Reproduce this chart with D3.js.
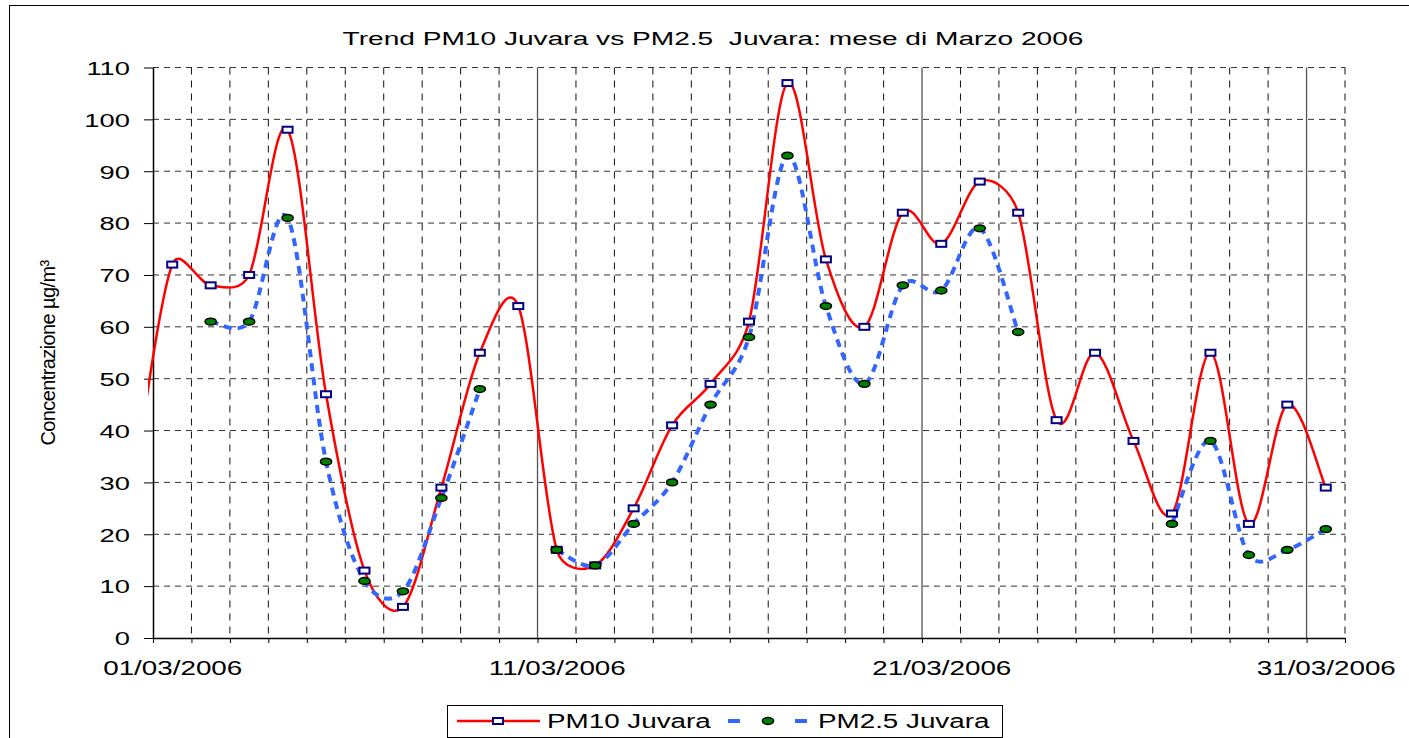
<!DOCTYPE html>
<html>
<head>
<meta charset="utf-8">
<script src="https://cdn.jsdelivr.net/npm/d3@7"></script>
<style>
  body { margin: 0; background: #fff; }
  svg { display: block; }
  text { font-family: "Liberation Sans", Arial, sans-serif; fill: #000; }
</style>
</head>
<body>
<script>
// daily values (28/02 only feeds the start of the smoothed line)
const dates = ["28/02/2006",
  "01/03/2006", "02/03/2006", "03/03/2006", "04/03/2006", "05/03/2006", "06/03/2006", "07/03/2006", "08/03/2006",
  "09/03/2006", "10/03/2006", "11/03/2006", "12/03/2006", "13/03/2006", "14/03/2006", "15/03/2006", "16/03/2006",
  "17/03/2006", "18/03/2006", "19/03/2006", "20/03/2006", "21/03/2006", "22/03/2006", "23/03/2006", "24/03/2006",
  "25/03/2006", "26/03/2006", "27/03/2006", "28/03/2006", "29/03/2006", "30/03/2006", "31/03/2006"];
const pm10 = [30,
  72, 68, 70, 98, 47, 13, 6, 29, 55, 64,
  17, 14, 25, 41, 49, 61, 107, 73, 60, 82,
  76, 88, 82, 42, 55, 38, 24, 55, 22, 45, 29];
const pm25 = [null,
  null, 61, 61, 81, 34, 11, 9, 27, 48, null,
  17, 14, 22, 30, 45, 58, 93, 64, 49, 68,
  67, 79, 59, null, null, null, 22, 38, 16, 17, 21];

const axisRange = ["01/03/2006", "01/04/2006"];
const labelDates = ["01/03/2006", "11/03/2006", "21/03/2006", "31/03/2006"];
const yTicks = [0, 10, 20, 30, 40, 50, 60, 70, 80, 90, 100, 110];

const seriesNames = ["PM10 Juvara", "PM2.5 Juvara"];
const title = "Trend PM10 Juvara vs PM2.5  Juvara: mese di Marzo 2006";
const yTitle = "Concentrazione µg/m³";

const W = 1409, H = 738;
const plot = { left: 153, right: 1345, top: 67.5, bottom: 638 };

// spreadsheet-style smoothing: bezier, handles 1/6 of the neighbour span,
// capped at half of the segment so short segments do not overshoot
function SmoothCurve(context) { this._context = context; }
SmoothCurve.prototype = {
  areaStart() { this._line = 0; },
  areaEnd() { this._line = NaN; },
  lineStart() { this._pts = []; },
  point(px, py) { this._pts.push([+px, +py]); },
  lineEnd() {
    const p = this._pts, c = this._context, n = p.length;
    if (!n) return;
    c.moveTo(p[0][0], p[0][1]);
    if (n === 2) { c.lineTo(p[1][0], p[1][1]); return; }
    const dist = (a, b) => Math.hypot(b[0] - a[0], b[1] - a[1]);
    for (let i = 0; i < n - 1; i++) {
      const p0 = p[i - 1] || p[i], p1 = p[i], p2 = p[i + 1], p3 = p[i + 2] || p[i + 1];
      const d12 = dist(p1, p2), d02 = dist(p0, p2), d13 = dist(p1, p3);
      const f1 = d02 > 0 ? Math.min(1 / 6, d12 / (2 * d02)) : 0;
      const f2 = d13 > 0 ? Math.min(1 / 6, d12 / (2 * d13)) : 0;
      c.bezierCurveTo(
        p1[0] + (p2[0] - p0[0]) * f1, p1[1] + (p2[1] - p0[1]) * f1,
        p2[0] - (p3[0] - p1[0]) * f2, p2[1] - (p3[1] - p1[1]) * f2,
        p2[0], p2[1]);
    }
  }
};
const curveSmooth = context => new SmoothCurve(context);

const parse = d3.utcParse("%d/%m/%Y");
const noon = s => d3.utcHour.offset(parse(s), 12);
const start = parse(axisRange[0]), end = parse(axisRange[1]);

const x = d3.scaleUtc().domain([start, end]).range([plot.left, plot.right]);
const y = d3.scaleLinear().domain([0, 110]).range([plot.bottom, plot.top]);

const svg = d3.select("body").append("svg").attr("width", W).attr("height", H);

// chart frame
svg.append("rect")
  .attr("x", 9.5).attr("y", 5.5).attr("width", W).attr("height", H)
  .attr("fill", "#fff").attr("stroke", "#000");

// grid
const grid = svg.append("g");
grid.selectAll(".hg").data(yTicks.filter(v => v > 0)).join("line")
  .attr("x1", plot.left).attr("x2", plot.right)
  .attr("y1", d => y(d)).attr("y2", d => y(d))
  .attr("stroke", "#333").attr("stroke-dasharray", "6,5");

const majors = labelDates.slice(1).map(parse);
const dayStarts = d3.utcDay.range(start, d3.utcDay.offset(end, 1));
grid.selectAll(".vg").data(dayStarts.filter(d => +d > +start && !majors.some(m => +m === +d))).join("line")
  .attr("x1", d => x(d)).attr("x2", d => x(d))
  .attr("y1", plot.top).attr("y2", plot.bottom)
  .attr("stroke", "#111").attr("stroke-dasharray", "7,6");
grid.selectAll(".mg").data(majors).join("line")
  .attr("x1", d => x(d)).attr("x2", d => x(d))
  .attr("y1", plot.top).attr("y2", plot.bottom)
  .attr("stroke", "#555").attr("stroke-width", 1.3);

// axes
const gx = svg.append("g").attr("transform", `translate(0,${plot.bottom})`)
  .call(d3.axisBottom(x).tickValues(dayStarts).tickSize(5).tickSizeOuter(0).tickFormat(""));
gx.select(".domain").attr("stroke-width", 1.5);

const gxl = svg.append("g").attr("transform", `translate(0,${plot.bottom})`)
  .call(d3.axisBottom(x).tickValues(labelDates.map(noon)).tickSize(0).tickFormat(d3.utcFormat("%d/%m/%Y")));
gxl.select(".domain").remove();
gxl.selectAll("text")
  .attr("y", 0).attr("dy", 0)
  .attr("transform", "translate(0,37) scale(1.39,1)")
  .style("font-size", "20px");

const gy = svg.append("g").attr("transform", `translate(${plot.left},0)`)
  .call(d3.axisLeft(y).tickValues(yTicks).tickSize(9).tickSizeOuter(0));
gy.select(".domain").attr("stroke-width", 1.5);
gy.selectAll("text")
  .attr("x", 0).attr("dy", "0.36em")
  .attr("transform", "translate(-23,0) scale(1.44,1)")
  .style("font-size", "19px");
gx.selectAll("line, path").attr("stroke", "#000");
gy.selectAll("line, path").attr("stroke", "#000");

// series
svg.append("clipPath").attr("id", "clip").append("rect")
  .attr("x", plot.left - 5).attr("y", plot.top - 2)
  .attr("width", plot.right - plot.left + 5).attr("height", plot.bottom - plot.top + 4);

const pts10 = dates.map((d, i) => ({ t: noon(d), v: pm10[i] }));
const pts25 = dates.map((d, i) => ({ t: noon(d), v: pm25[i] }));

const line = d3.line()
  .defined(d => d.v != null)
  .x(d => x(d.t)).y(d => y(d.v))
  .curve(curveSmooth);

const series = svg.append("g").attr("clip-path", "url(#clip)");
series.append("path").datum(pts10).attr("d", line)
  .attr("fill", "none").attr("stroke", "#ff0000").attr("stroke-width", 2.5);
series.append("path").datum(pts25).attr("d", line)
  .attr("fill", "none").attr("stroke", "#3366ff").attr("stroke-width", 4)
  .attr("stroke-dasharray", "8,6");

series.selectAll(".m10").data(pts10.filter(d => d.t >= start)).join("rect")
  .attr("x", d => x(d.t) - 5).attr("y", d => y(d.v) - 3)
  .attr("width", 10).attr("height", 6)
  .attr("fill", "#fff").attr("stroke", "#000080").attr("stroke-width", 2);
series.selectAll(".m25").data(pts25.filter(d => d.v != null && d.t >= start)).join("ellipse")
  .attr("cx", d => x(d.t)).attr("cy", d => y(d.v))
  .attr("rx", 5.6).attr("ry", 3.4)
  .attr("fill", "#008000").attr("stroke", "#000").attr("stroke-width", 1.5);

// titles
svg.append("text")
  .attr("transform", "translate(713,45) scale(1.48,1)")
  .attr("text-anchor", "middle").style("font-size", "19px").style("white-space", "pre")
  .text(title);

svg.append("text")
  .attr("transform", "translate(55,353) rotate(-90)")
  .attr("text-anchor", "middle").style("font-size", "20px").style("letter-spacing", "-0.6px")
  .text(yTitle);

// legend
const lg = svg.append("g");
lg.append("rect").attr("x", 447.5).attr("y", 705.5).attr("width", 555).attr("height", 32)
  .attr("fill", "#fff").attr("stroke", "#000");
lg.append("line").attr("x1", 457).attr("x2", 540).attr("y1", 721).attr("y2", 721)
  .attr("stroke", "#ff0000").attr("stroke-width", 2.5);
lg.append("rect").attr("x", 493).attr("y", 718).attr("width", 10).attr("height", 6)
  .attr("fill", "#fff").attr("stroke", "#000080").attr("stroke-width", 2);
lg.append("text").attr("transform", "translate(547,728) scale(1.39,1)")
  .style("font-size", "20px").text(seriesNames[0]);
lg.append("line").attr("x1", 728).attr("x2", 807).attr("y1", 721).attr("y2", 721)
  .attr("stroke", "#3366ff").attr("stroke-width", 4).attr("stroke-dasharray", "12,55");
lg.append("ellipse").attr("cx", 768).attr("cy", 721).attr("rx", 5.6).attr("ry", 3.4)
  .attr("fill", "#008000").attr("stroke", "#000").attr("stroke-width", 1.5);
lg.append("text").attr("transform", "translate(818,728) scale(1.39,1)")
  .style("font-size", "20px").text(seriesNames[1]);
</script>
</body>
</html>
